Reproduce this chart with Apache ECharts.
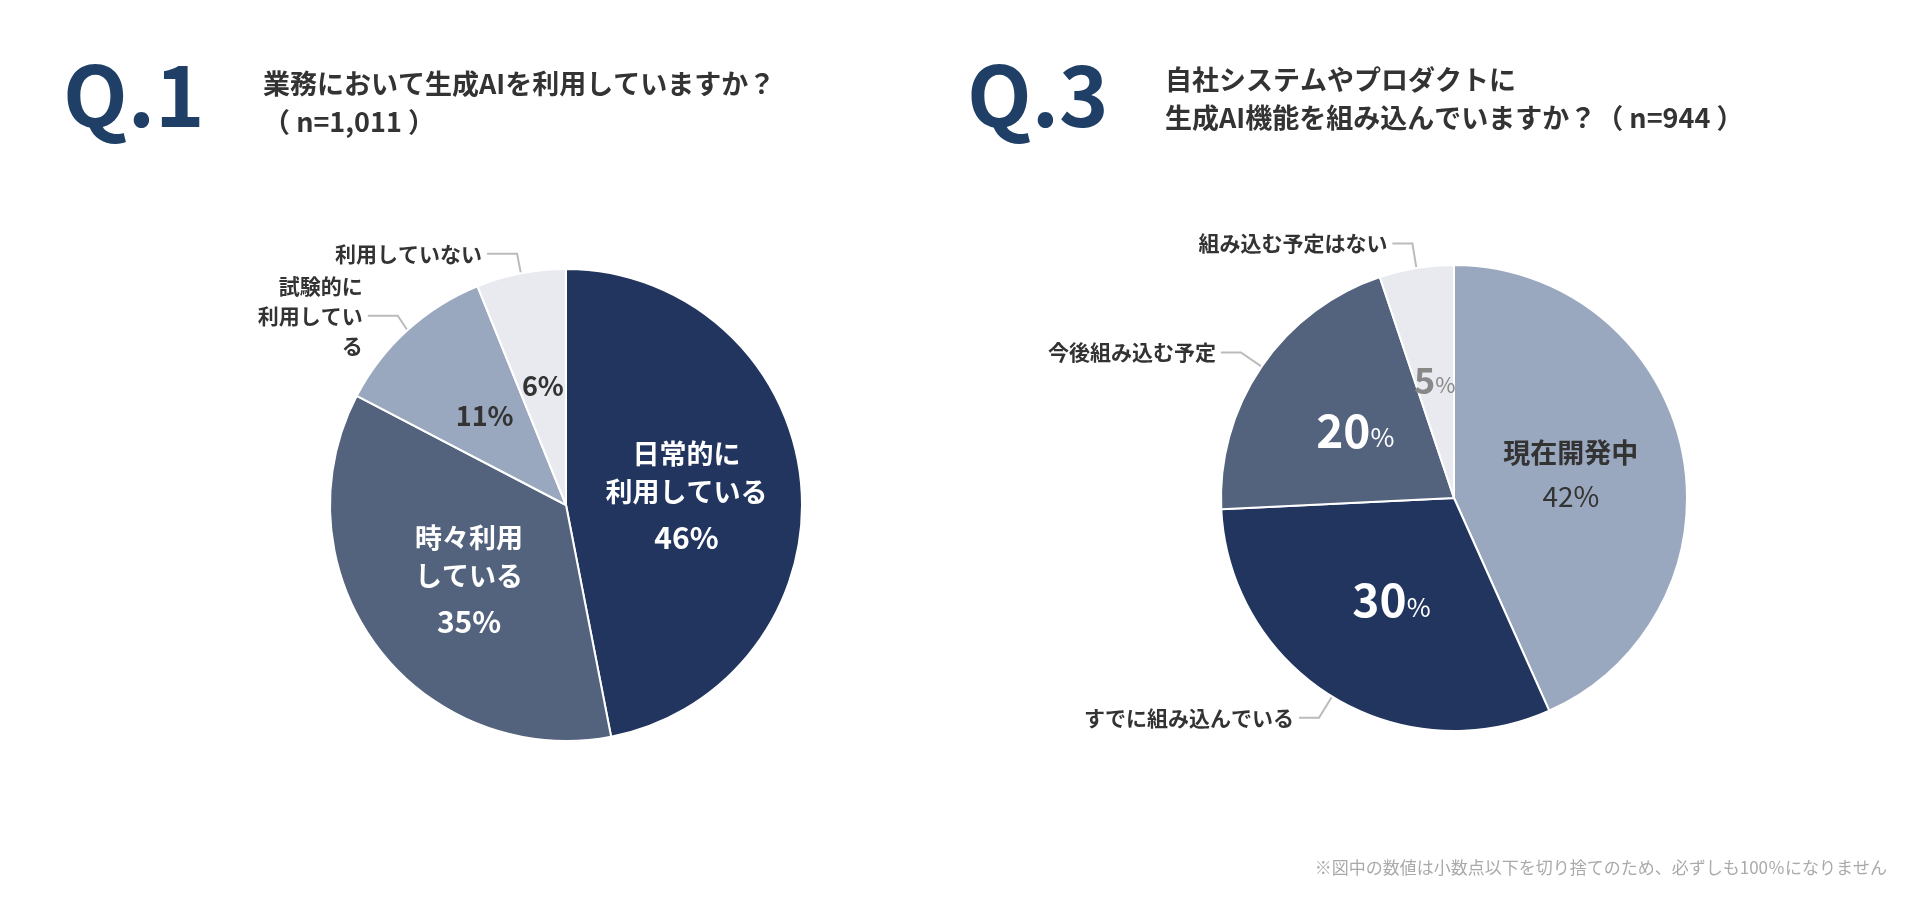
<!DOCTYPE html>
<html><head><meta charset="utf-8">
<script src="https://cdn.jsdelivr.net/npm/echarts@6/dist/echarts.min.js"></script>
<style>html,body{margin:0;background:#fff}#chart{width:1920px;height:915px}</style>
</head><body><div id="chart"></div>
<script>
// Q.1
const q1Names = ['日常的に\n利用している', '時々利用\nしている', '試験的に\n利用してい\nる', '利用していない'];
const q1Values = [46, 35, 11, 6];
// Q.3
const q3Names = ['現在開発中', 'すでに組み込んでいる', '今後組み込む予定', '組み込む予定はない'];
const q3Values = [42, 30, 20, 5];

const colors1 = ['#22355f', '#53637e', '#9aa8bf', '#e8eaef'];
const colors3 = ['#9aa8bf', '#22355f', '#53637e', '#e8eaef'];
const font = '"Noto Sans CJK JP", "Noto Sans", sans-serif';

const chart = echarts.init(document.getElementById('chart'));

function outsideLabel(name, v, pctColor) {
    return {
        show: true, position: 'outside',
        formatter: name, color: '#333', fontSize: 21, fontWeight: 'bold', fontFamily: font, lineHeight: 30
    };
}

const q1Data = [
    {value: q1Values[0], name: q1Names[0],
     label: {formatter: '{n|' + q1Names[0] + '}\n\n{p|' + q1Values[0] + '%}', position: 'inside', offset: [0, 0]}},
    {value: q1Values[1], name: q1Names[1],
     label: {formatter: '{n|' + q1Names[1] + '}\n\n{p|' + q1Values[1] + '%}', position: 'inside'}},
    {value: q1Values[2], name: q1Names[2], label: {formatter: '{d|' + q1Values[2] + '%}', position: 'inside'}},
    {value: q1Values[3], name: q1Names[3], label: {formatter: '{d|' + q1Values[3] + '%}', position: 'inside'}}
];
const q3Data = [
    {value: q3Values[0], name: q3Names[0],
     label: {formatter: '{d|' + q3Names[0] + '}\n\n{d2|' + q3Values[0] + '%}', position: 'inside'}},
    {value: q3Values[1], name: q3Names[1], label: {formatter: '{b|' + q3Values[1] + '}{s|%}', position: 'inside'}},
    {value: q3Values[2], name: q3Names[2], label: {formatter: '{b|' + q3Values[2] + '}{s|%}', position: 'inside'}},
    {value: q3Values[3], name: q3Names[3], label: {formatter: '{g|' + q3Values[3] + '}{gs|%}', position: 'inside'}}
];

const rich = {
    n: {color: '#fff', fontSize: 27, fontWeight: 'bold', fontFamily: font, lineHeight: 38},
    p: {color: '#fff', fontSize: 30, fontWeight: 'bold', fontFamily: font},
    d: {color: '#333', fontSize: 27, fontWeight: 'bold', fontFamily: font, lineHeight: 34},
    d2: {color: '#333', fontSize: 28, fontFamily: font},
    b: {color: '#fff', fontSize: 46, fontWeight: 'bold', fontFamily: font},
    s: {color: '#fff', fontSize: 26, fontFamily: font, padding: [14, 0, 0, 0]},
    g: {color: '#888', fontSize: 36, fontWeight: 'bold', fontFamily: font},
    gs: {color: '#888', fontSize: 22, fontFamily: font, padding: [10, 0, 0, 0]}
};

const option = {
    animation: false,
    title: [
        {text: 'Q.1', left: 58, top: 48, textStyle: {color: '#1f3f66', fontSize: 84, fontWeight: 'bold', fontFamily: font}},
        {text: '業務において生成AIを利用していますか？\n（ n=1,011 ）', left: 258, top: 60,
         textStyle: {color: '#333', fontSize: 27, fontWeight: 'bold', fontFamily: font, lineHeight: 38}},
        {text: 'Q.3', left: 962, top: 48, textStyle: {color: '#1f3f66', fontSize: 84, fontWeight: 'bold', fontFamily: font}},
        {text: '自社システムやプロダクトに\n生成AI機能を組み込んでいますか？（ n=944 ）', left: 1160, top: 56,
         textStyle: {color: '#333', fontSize: 27, fontWeight: 'bold', fontFamily: font, lineHeight: 38}},
        {text: '※図中の数値は小数点以下を切り捨てのため、必ずしも100％になりません', right: 28, top: 854,
         textStyle: {color: '#aaa', fontSize: 17, fontWeight: 'normal', fontFamily: font}}
    ],
    series: [
        {
            type: 'pie', center: [566, 505], radius: [0, 236], startAngle: 90, clockwise: true,
            color: colors1, itemStyle: {borderColor: '#fff', borderWidth: 2},
            label: {rich: rich},
            data: q1Data
        },
        {
            type: 'pie', center: [566, 505], radius: [0, 236], startAngle: 90, clockwise: true,
            itemStyle: {color: 'transparent'}, silent: true,
            label: {show: false}, labelLine: {show: false},
            data: q1Values.map((v, i) => ({value: v, name: q1Names[i],
                label: i >= 2 ? {show: true, position: 'outside', formatter: q1Names[i], color: '#333', fontSize: 21,
                    fontWeight: 'bold', fontFamily: font, lineHeight: 30, align: 'left'} : {show: false},
                labelLine: i >= 2 ? {show: true, length: 20, length2: 30, lineStyle: {color: '#bbb', width: 2}} : {show: false}}))
        },
        {
            type: 'pie', center: [1454, 498], radius: [0, 233], startAngle: 90, clockwise: true,
            color: colors3, itemStyle: {borderColor: '#fff', borderWidth: 2},
            label: {rich: rich},
            data: q3Data
        },
        {
            type: 'pie', center: [1454, 498], radius: [0, 233], startAngle: 90, clockwise: true,
            itemStyle: {color: 'transparent'}, silent: true,
            label: {show: false}, labelLine: {show: false},
            data: q3Values.map((v, i) => ({value: v, name: q3Names[i],
                label: i >= 1 ? {show: true, position: 'outside', formatter: q3Names[i], color: '#333', fontSize: 21,
                    fontWeight: 'bold', fontFamily: font} : {show: false},
                labelLine: i >= 1 ? {show: true, length: 25, length2: 20, lineStyle: {color: '#bbb', width: 2}} : {show: false}}))
        }
    ]
};

option && chart.setOption(option);
</script></body></html>
